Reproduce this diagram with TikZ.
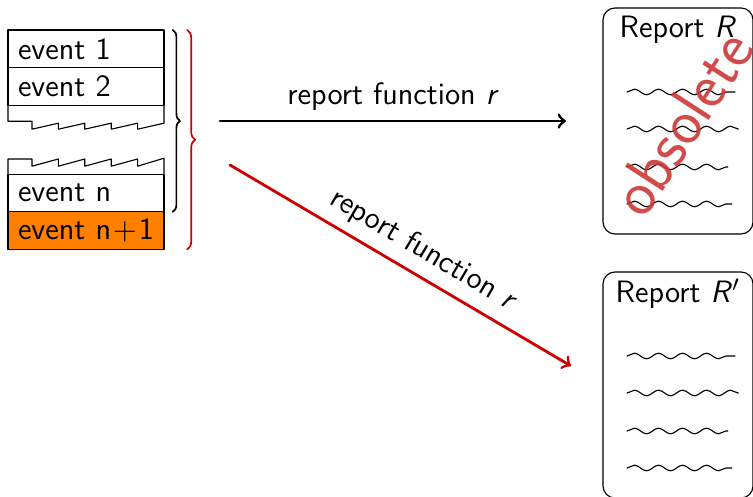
\documentclass[tikz,border=0pt]{standalone}
\usetikzlibrary{positioning,decorations.pathreplacing,decorations.pathmorphing}
\definecolor{darkred}{RGB}{204,0,0}
\definecolor{stamp}{RGB}{205,55,55}
\tikzset{
	evt/.style={draw, minimum width=1.95cm, minimum height=0.47cm, text width=1.7cm,
		inner xsep=0.125cm, inner ysep=0pt, align=left, outer sep=0pt},
	report/.style={draw, rounded corners=0.15cm, minimum width=1.875cm,
		minimum height=2.825cm, outer sep=0pt},
	txtline/.style={decorate, decoration={snake, segment length=0.3cm, amplitude=0.035cm}}
}
\begin{document}
\begin{tikzpicture}[font=\sffamily\fontsize{11}{13}\selectfont, line join=round,
	line cap=round, >=to]
	\useasboundingbox (0,0) rectangle (9.4125,6.2125);
	% event log
	\node[evt, anchor=north west] (e1) at (0.1,5.8375) {event 1};
	\node[evt, below=0pt of e1] (e2) {event 2};
	\node[evt, below=0.8625cm of e2] (en) {event n};
	\node[evt, below=0pt of en, fill=orange] (enn) {event n${}+{}$1};
	% torn edges
	\draw (e2.south west) -- ++(0,-0.2) -- ++(0.3,0) -- ++(0,-0.1)
	\foreach \i in {1,...,4}{ -- ++(0.33,0.075) -- ++(0,-0.075) }
	-- ++(0.33,0.075) -- (e2.south east);
	\draw (en.north west) -- ++(0,0.19) -- ++(0.3,0) -- ++(0,-0.09)
	\foreach \i in {1,...,4}{ -- ++(0.33,0.09) -- ++(0,-0.09) }
	-- ++(0.33,0.1) -- (en.north east);
	% braces
	\draw[semithick, decorate, decoration={brace, amplitude=0.09cm}]
	([xshift=0.11cm]e1.north east) -- ([xshift=0.11cm]en.south east);
	\draw[semithick, darkred, decorate, decoration={brace, amplitude=0.1cm}]
	([xshift=0.29cm]e1.north east) -- ([xshift=0.29cm]enn.south east);
	% reports
	\node[report, anchor=north west] (repR) at (7.5375,6.1125) {};
	\node[report, anchor=north west] (repRp) at (7.5375,2.8125) {};
	\node (tR) at ([yshift=-0.27cm]repR.north) {Report \textit{R}};
	\node (tRp) at ([yshift=-0.27cm]repRp.north) {Report \textit{R}$'$};
	\foreach \r in {repR,repRp}
	\foreach \y/\l in {1.05/1.35,1.5125/1.39,1.9875/1.26,2.45/1.31}
	\draw[txtline] ([xshift=0.3cm,yshift=-\y cm]\r.north west) -- ++(\l,0);
	\node[text=stamp, opacity=0.9, rotate=57, font=\sffamily\fontsize{23}{27}\selectfont]
	(obs) at (8.52,4.68) {obsolete};
	% arrows
	\path
	(2.75,4.7) coordinate (s1)
	(7.075,4.7) coordinate (t1)
	(2.875,4.15) coordinate (s2)
	(7.1375,1.6375) coordinate (t2);
	\draw[->, line width=1pt] (s1) -- (t1)
	node[midway, above] (l1) {report function \textit{r}};
	\draw[->, line width=1pt, darkred] (s2) -- (t2)
	node[pos=0.53, sloped, above, text=black] (l2) {report function \textit{r}};
\end{tikzpicture}
\end{document}
